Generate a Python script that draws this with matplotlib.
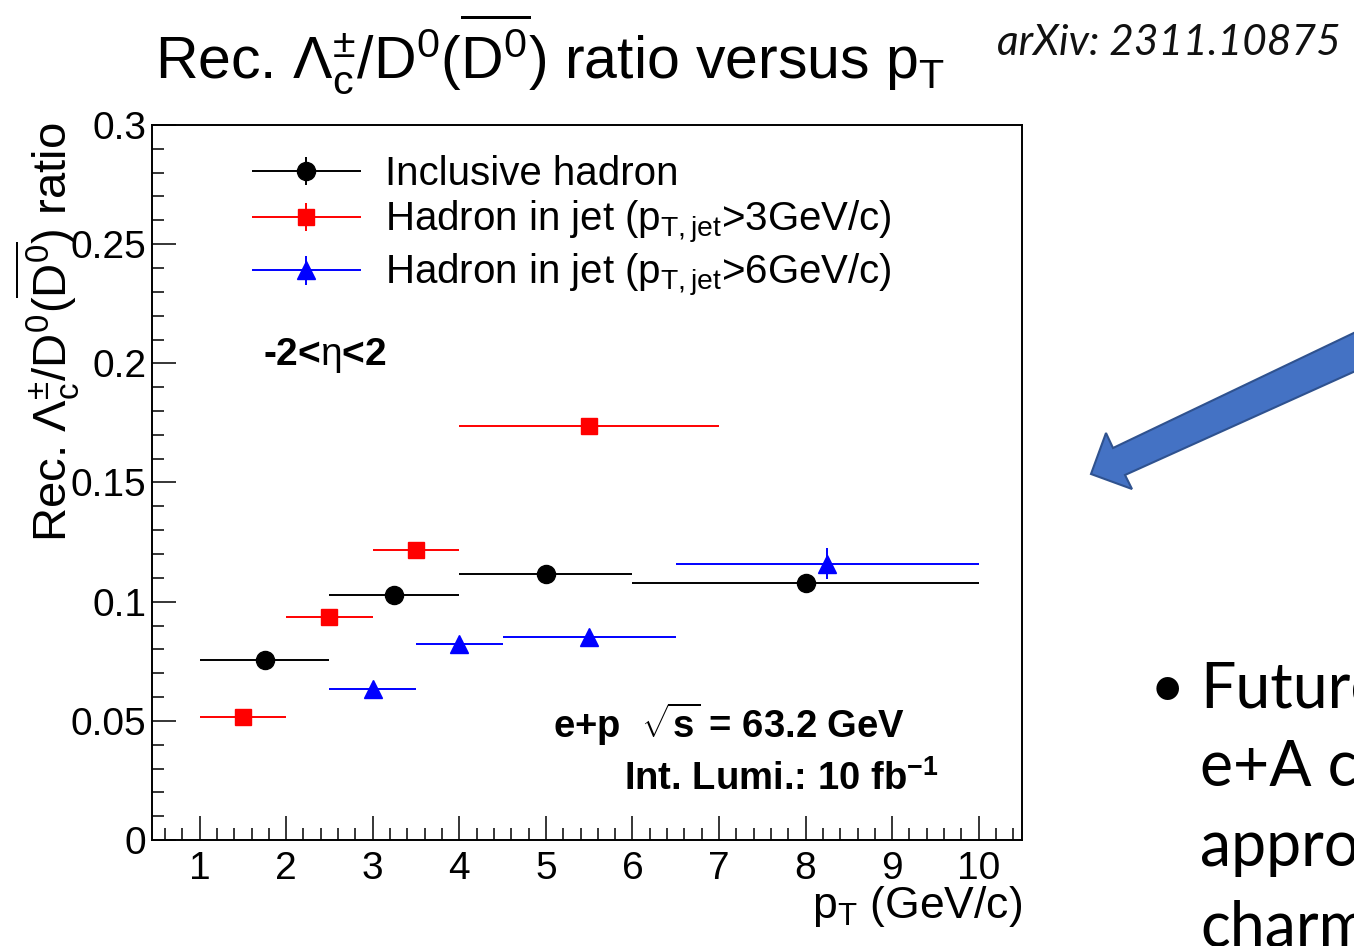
import numpy as np
import matplotlib
matplotlib.use("Agg")
import matplotlib.pyplot as plt
from matplotlib.patches import Polygon
from matplotlib.container import ErrorbarContainer
from matplotlib.legend_handler import HandlerErrorbar
from matplotlib.ticker import MultipleLocator, FuncFormatter

plt.rcParams['font.family'] = ['Liberation Sans', 'DejaVu Sans']
plt.rcParams['mathtext.fontset'] = 'custom'
plt.rcParams['mathtext.rm'] = 'Liberation Sans'
plt.rcParams['mathtext.it'] = 'Liberation Sans:italic'
plt.rcParams['mathtext.bf'] = 'Liberation Sans:bold'

# inclusive hadron
pt_incl = np.array([1.75, 3.25, 5.0, 8.0])
pt_incl_lo = np.array([1.0, 2.5, 4.0, 6.0])
pt_incl_hi = np.array([2.5, 4.0, 6.0, 10.0])
ratio_incl = np.array([0.0756, 0.1029, 0.1117, 0.108])
err_incl = np.array([0.002, 0.002, 0.002, 0.003])

# hadron in jet, pT,jet > 3 GeV/c
pt_jet3 = np.array([1.5, 2.5, 3.5, 5.5])
pt_jet3_lo = np.array([1.0, 2.0, 3.0, 4.0])
pt_jet3_hi = np.array([2.0, 3.0, 4.0, 7.0])
ratio_jet3 = np.array([0.0516, 0.0936, 0.1217, 0.1737])
err_jet3 = np.array([0.002, 0.002, 0.002, 0.003])

# hadron in jet, pT,jet > 6 GeV/c
pt_jet6 = np.array([3.0, 4.0, 5.5, 8.25])
pt_jet6_lo = np.array([2.5, 3.5, 4.5, 6.5])
pt_jet6_hi = np.array([3.5, 4.5, 6.5, 10.0])
ratio_jet6 = np.array([0.0635, 0.0821, 0.0851, 0.1159])
err_jet6 = np.array([0.002, 0.002, 0.002, 0.0065])

labels = ['Inclusive hadron',
          r'Hadron in jet (p$_{\mathrm{T,jet}}$>3GeV/c)',
          r'Hadron in jet (p$_{\mathrm{T,jet}}$>6GeV/c)']

W, H = 1354, 946
fig = plt.figure(figsize=(W / 100, H / 100), dpi=100)
ax = fig.add_axes([152 / W, 1 - 840 / H, 870 / W, 715 / H])

series = [
    (pt_incl, pt_incl_lo, pt_incl_hi, ratio_incl, err_incl, 'black', 'o', 13),
    (pt_jet3, pt_jet3_lo, pt_jet3_hi, ratio_jet3, err_jet3, 'red', 's', 12),
    (pt_jet6, pt_jet6_lo, pt_jet6_hi, ratio_jet6, err_jet6, 'blue', '^', 13),
]
handles = []
for x, lo, hi, y, ey, c, m, ms in series:
    h = ax.errorbar(x, y, xerr=[x - lo, hi - x], yerr=ey, fmt=m, color=c,
                    ms=ms, elinewidth=1.4, capsize=0, mec=c, mfc=c)
    handles.append(h)

ax.set_xlim(0.45, 10.5)
ax.set_ylim(0, 0.3)
ax.xaxis.set_major_locator(MultipleLocator(1))
ax.xaxis.set_minor_locator(MultipleLocator(0.2))
ax.yaxis.set_major_locator(MultipleLocator(0.05))
ax.yaxis.set_minor_locator(MultipleLocator(0.01))
ax.yaxis.set_major_formatter(FuncFormatter(lambda v, p: '%g' % round(v, 3)))
ax.xaxis.set_major_formatter(FuncFormatter(lambda v, p: '%d' % round(v) if v >= 0.99 else ''))
ax.tick_params(which='both', direction='in', top=False, right=False, width=1.1)
ax.tick_params(which='major', length=17, labelsize=28)
ax.tick_params(which='minor', length=8.6)
ax.tick_params(axis='x', which='major', pad=8)
ax.tick_params(axis='y', which='major', pad=4)
for s in ax.spines.values():
    s.set_linewidth(1.4)

ax.legend(handles, labels, loc='upper left', bbox_to_anchor=(0.115, 0.958),
          frameon=False, fontsize=29, handlelength=2.7, handletextpad=0.6,
          labelspacing=0.15, borderaxespad=0, borderpad=0,
          handler_map={ErrorbarContainer: HandlerErrorbar(xerr_size=1.35, yerr_size=0.35)})

ax.text(0.128, 0.665, r'-2<$\mathrm{\eta}$<2', transform=ax.transAxes, fontsize=28,
        fontweight='bold', va='baseline')
ax.text(0.461, 0.143, r'e+p  $\sqrt{\mathbf{s}}$ = 63.2 GeV', transform=ax.transAxes,
        fontsize=27.5, fontweight='bold', va='baseline')
ax.text(0.542, 0.07, r'Int. Lumi.: 10 fb$^{\mathbf{-1}}$', transform=ax.transAxes,
        fontsize=27.5, fontweight='bold', va='baseline')

fig.text(155 / W, 1 - 78 / H,
         r'Rec. $\Lambda_{\mathrm{c}}^{\pm}$/D$^{0}$($\overline{\mathrm{D}^{0}}$) ratio versus p$_{\mathrm{T}}$',
         fontsize=42.5, va='baseline', ha='left')
fig.text(68 / W, 1 - 122 / H,
         r'Rec. $\Lambda_{\mathrm{c}}^{\pm}$/D$^{0}$($\overline{\mathrm{D}^{0}}$) ratio',
         fontsize=34, rotation=90, rotation_mode='anchor', ha='right', va='baseline')
fig.text(1022 / W, 1 - 918 / H, r'p$_{\mathrm{T}}$ (GeV/c)', fontsize=32,
         ha='right', va='baseline')

fig.text(997 / W, 1 - 55 / H, 'arXiv: 2311.10875', fontsize=30.5, style='italic',
         family=['Lato', 'DejaVu Sans'], color='#111111', va='baseline')

arrow_px = [(1091, 474), (1106, 433), (1113, 448), (1360, 330),
            (1360, 369), (1125, 475), (1132, 489)]
fig.patches.append(Polygon([(x / W, 1 - y / H) for x, y in arrow_px], closed=True,
                           transform=fig.transFigure, facecolor='#4472C4',
                           edgecolor='#2F528F', lw=1.5))

bullet_lines = ['Future', 'e+A collisions', 'approach', 'charm']
bullet_base = [707, 786, 866, 946]
fig.text(1150 / W, 1 - 707 / H, '\u2022', fontsize=44, family=['Lato', 'DejaVu Sans'],
         va='baseline')
for s, yb in zip(bullet_lines, bullet_base):
    fig.text(1200 / W, 1 - yb / H, s, fontsize=45, family=['Lato', 'DejaVu Sans'],
             va='baseline')

fig.savefig('out.png', dpi=100)
